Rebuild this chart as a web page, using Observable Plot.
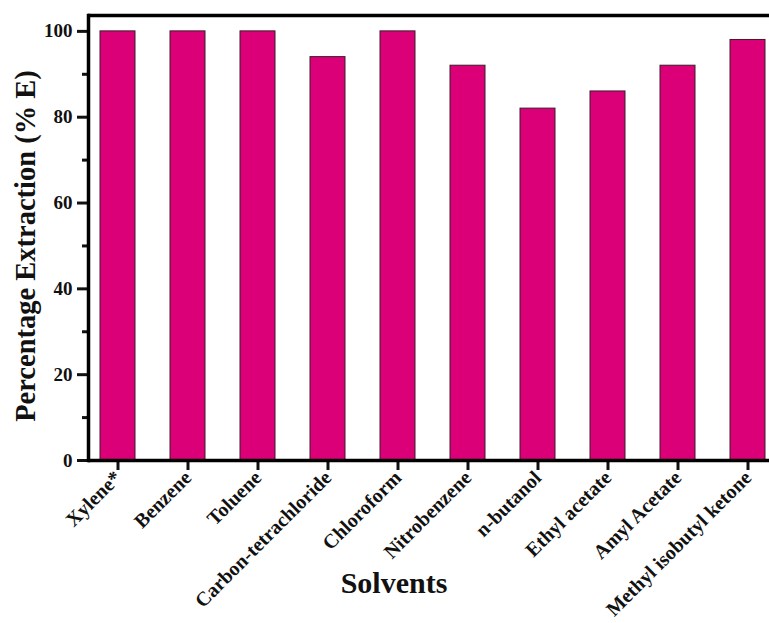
<!DOCTYPE html>
<html>
<head>
<meta charset="utf-8">
<script src="https://cdn.jsdelivr.net/npm/d3@7"></script>
<script src="https://cdn.jsdelivr.net/npm/@observablehq/plot@0.6"></script>
<style>
  html, body { margin: 0; padding: 0; background: #fff; overflow: hidden; }
</style>
</head>
<body>
<div id="chart"></div>
<script>
const solvents = ["Xylene*", "Benzene", "Toluene", "Carbon-tetrachloride", "Chloroform", "Nitrobenzene", "n-butanol", "Ethyl acetate", "Amyl Acetate", "Methyl isobutyl ketone"];
const extraction = [100, 100, 100, 94, 100, 92, 82, 86, 92, 98];
const majorTicks = [0, 20, 40, 60, 80, 100];
const minorTicks = [10, 30, 50, 70, 90];
const yLabel = "Percentage Extraction (% E)";
const xLabel = "Solvents";

const data = solvents.map((s, i) => ({solvent: s, value: extraction[i]}));
const yTop = 103.7;

const plot = Plot.plot({
  width: 769,
  height: 623,
  marginTop: 15,
  marginBottom: 163,
  marginLeft: 88,
  marginRight: 0,
  style: {fontFamily: "'Liberation Serif', 'Times New Roman', serif", fontWeight: "bold", fontSize: "19px", color: "#111", background: "#fff"},
  x: {type: "band", domain: solvents, range: [88, 776], paddingInner: 0.5, paddingOuter: 0.159, align: 0.5, axis: null},
  y: {domain: [0, yTop], axis: null},
  marks: [
    Plot.barY(data, {x: "solvent", y: "value", fill: "#dc0078", stroke: "#3a1a2a", strokeWidth: 1}),
    Plot.axisY({ticks: minorTicks, tickSize: 6, tickFormat: () => "", strokeWidth: 3, label: null}),
    Plot.axisY({ticks: majorTicks, tickSize: 11, tickPadding: 5, strokeWidth: 3, label: null, fontSize: 19}),
    Plot.axisX({tickSize: 10, tickRotate: -45, tickPadding: 4, strokeWidth: 3, label: null, fontSize: 20}),
    Plot.ruleY([0], {strokeWidth: 3.5, stroke: "#000"}),
    Plot.ruleY([yTop], {strokeWidth: 3.5, stroke: "#000"}),
    Plot.frame({anchor: "left", strokeWidth: 3.5, stroke: "#000"}),
    Plot.text([yLabel], {frameAnchor: "left", textAnchor: "middle", rotate: -90, dx: -63, dy: 8, fontSize: 28.5, fontWeight: "bold", fill: "#111"}),
    Plot.text([xLabel], {frameAnchor: "bottom", dx: -35, dy: 132, fontSize: 30, fontWeight: "bold", fill: "#111"})
  ]
});
document.getElementById("chart").appendChild(plot);
</script>
</body>
</html>
